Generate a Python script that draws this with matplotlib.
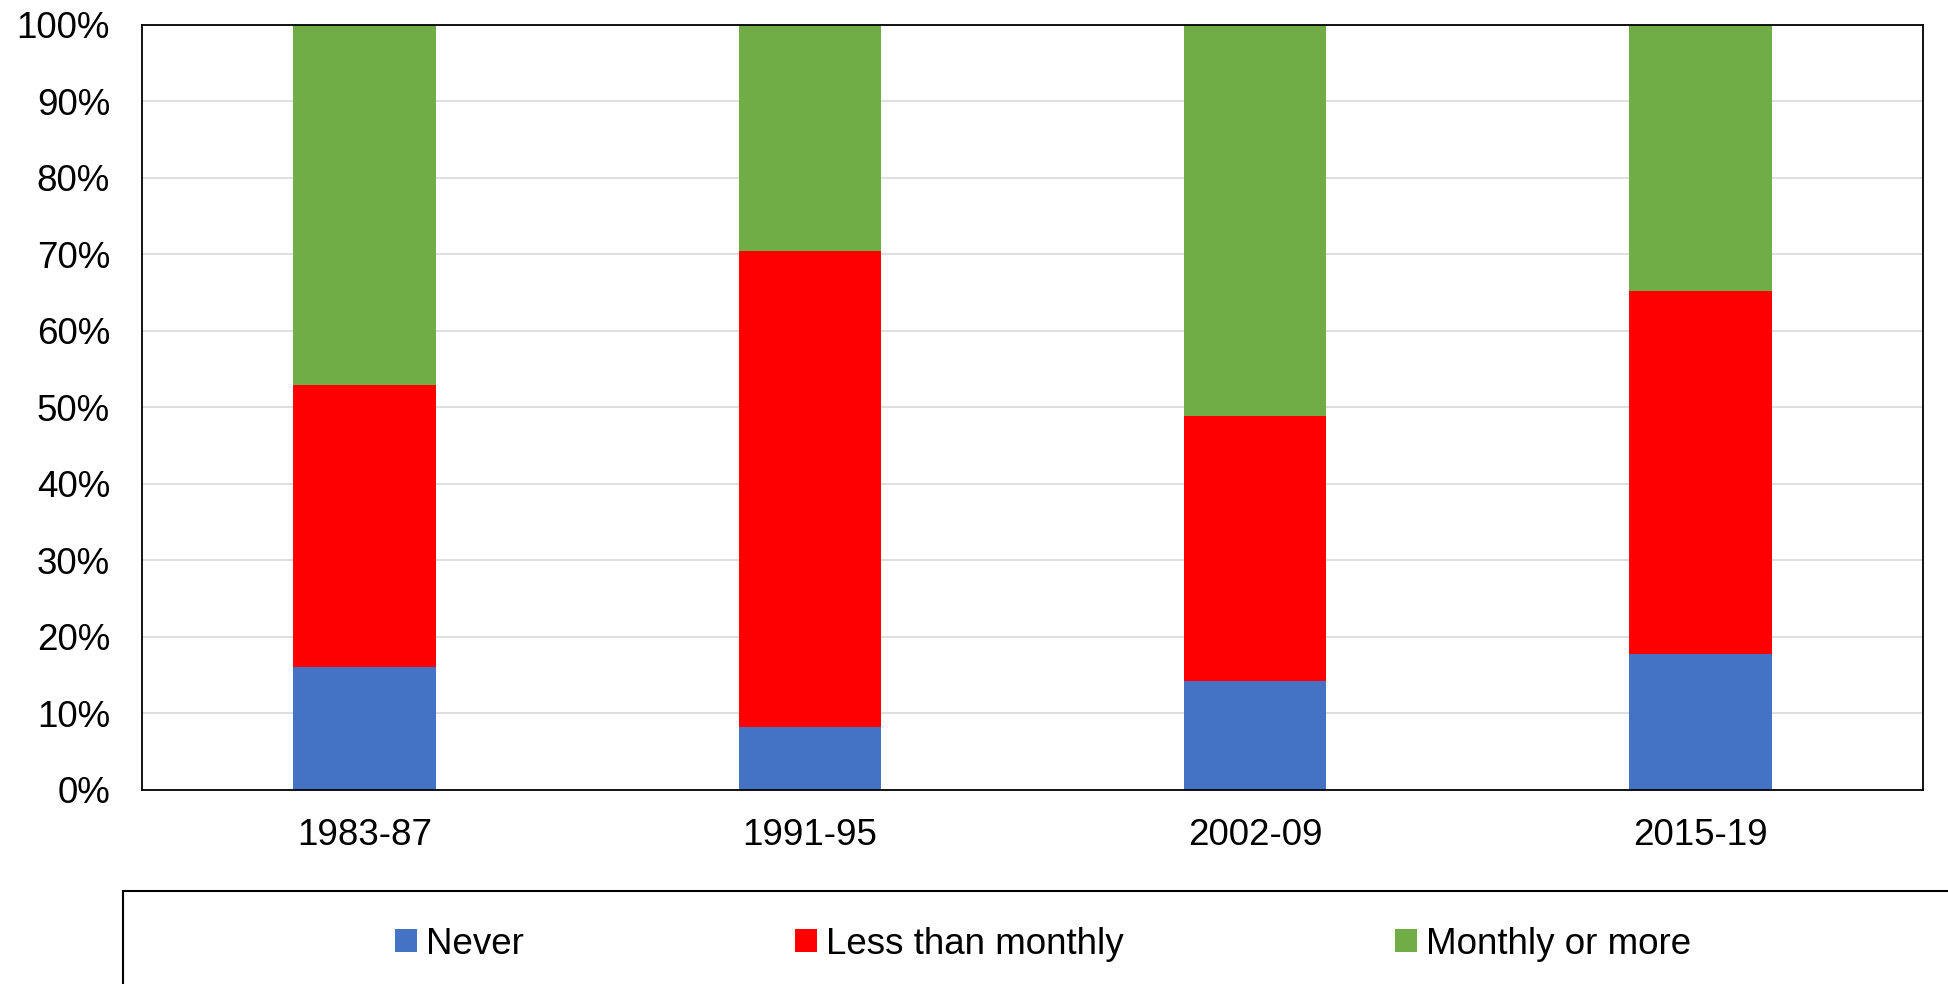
import matplotlib.pyplot as plt
from matplotlib.patches import Rectangle
from matplotlib.ticker import PercentFormatter

plt.rcParams['font.family'] = ['Liberation Sans', 'DejaVu Sans']

periods = ['1983-87', '1991-95', '2002-09', '2015-19']
never = [16.1, 8.2, 14.3, 17.8]
less_monthly = [36.8, 62.3, 34.6, 47.4]
monthly_more = [47.1, 29.5, 51.1, 34.8]

fig = plt.figure(figsize=(19.48, 9.84), dpi=100)
ax = fig.add_axes([0.0729, 0.1972, 0.9143, 0.7774])

x = range(len(periods))
bottom2 = [never[i] + less_monthly[i] for i in x]
ax.bar(x, never, width=0.32, color='#4472C4', label='Never', zorder=2)
ax.bar(x, less_monthly, width=0.32, bottom=never, color='#FF0000', label='Less than monthly', zorder=2)
ax.bar(x, monthly_more, width=0.32, bottom=bottom2, color='#70AD47', label='Monthly or more', zorder=2)

ax.set_xlim(-0.5, 3.5)
ax.set_ylim(0, 100)
ax.set_yticks(range(0, 101, 10))
ax.yaxis.set_major_formatter(PercentFormatter(decimals=0))
ax.set_xticks(list(x))
ax.set_xticklabels(periods)
ax.tick_params(axis='both', length=0, labelsize=26.5)
ax.tick_params(axis='y', pad=23)
ax.tick_params(axis='x', pad=20)
ax.grid(axis='y', color='#D9D9D9', linewidth=1.2, zorder=0)
ax.set_axisbelow(True)
for s in ax.spines.values():
    s.set_color('black')
    s.set_linewidth(1.3)

# legend box runs off the right and bottom edge of the image
box = Rectangle((0.0631, -0.05), 1.0, 0.1445, transform=fig.transFigure,
                fill=False, edgecolor='black', linewidth=1.5, clip_on=False)
fig.add_artist(box)
fig.legend(loc='center', bbox_to_anchor=(1043 / 1948, 1 - 944 / 984), ncol=3,
           frameon=False, fontsize=26.5, handlelength=0.6, handleheight=0.6,
           handletextpad=0.25, columnspacing=7.36, borderpad=0)

fig.savefig('out.png', dpi=100)
